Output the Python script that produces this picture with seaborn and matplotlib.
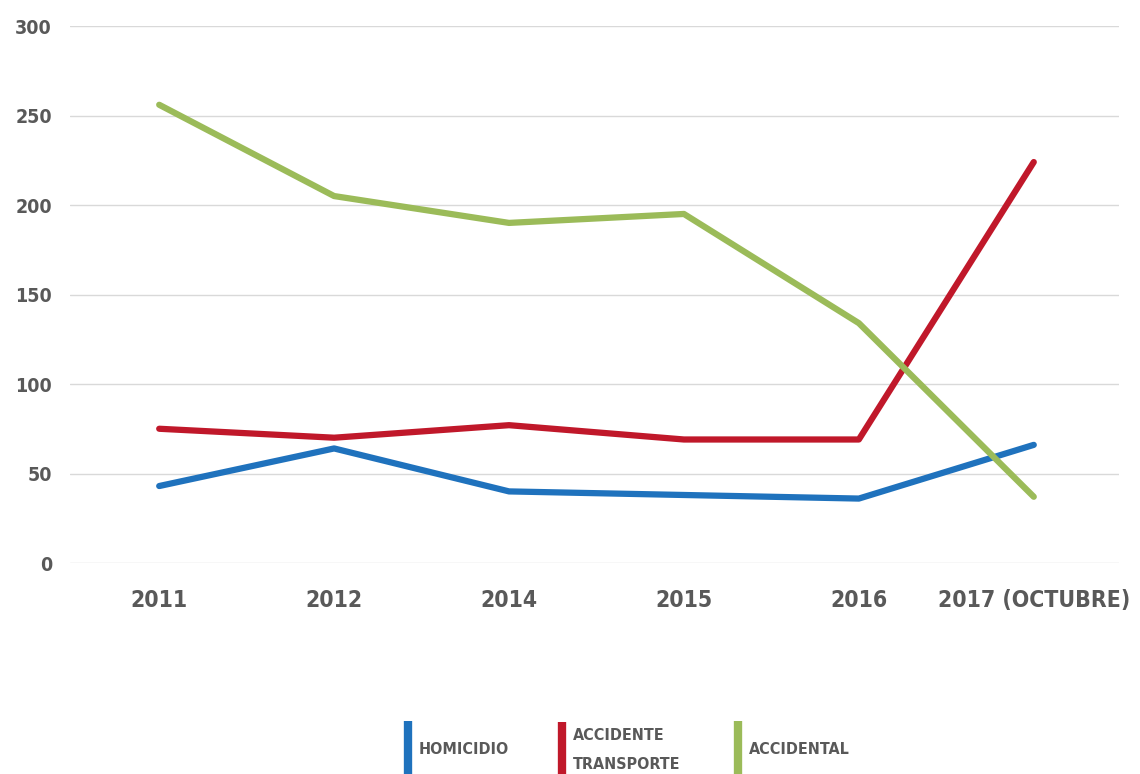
import matplotlib
matplotlib.use("Agg")
import matplotlib.pyplot as plt
import pandas as pd
import seaborn as sns
from matplotlib.lines import Line2D

years = ["2011", "2012", "2014", "2015", "2016", "2017 (OCTUBRE)"]
homicidio = [43, 64, 40, 38, 36, 66]
accidente_transporte = [75, 70, 77, 69, 69, 224]
accidental = [256, 205, 190, 195, 134, 37]

series_names = ["HOMICIDIO", "ACCIDENTE\nTRANSPORTE", "ACCIDENTAL"]
colors = ["#1f72bd", "#c0182a", "#9bbb59"]
text_color = "#595959"

sns.set_theme(style="white")
plt.rcParams["font.family"] = ["DejaVu Sans"]
plt.rcParams["font.stretch"] = "condensed"
plt.rcParams["font.weight"] = "bold"

df = pd.DataFrame({
    "year": years * 3,
    "value": homicidio + accidente_transporte + accidental,
    "serie": [series_names[0]] * 6 + [series_names[1]] * 6 + [series_names[2]] * 6,
})

fig = plt.figure(figsize=(11.4, 7.74), dpi=100)
ax = fig.add_axes([0.0614, 0.2726, 0.9206, 0.6938])

sns.lineplot(
    data=df, x="year", y="value", hue="serie", hue_order=series_names,
    palette=colors, linewidth=4.5, sort=False, legend=False, ax=ax,
    solid_capstyle="round",
)

ax.set_ylim(0, 300)
ax.set_xlim(-0.51, 5.49)
ax.set_yticks(range(0, 301, 50))
ax.yaxis.grid(True, color="#d9d9d9", linewidth=1)
ax.set_axisbelow(True)
for s in ax.spines.values():
    s.set_visible(False)
ax.set_xlabel("")
ax.set_ylabel("")
ax.tick_params(axis="y", length=0, pad=13, labelsize=14, labelcolor=text_color)
ax.tick_params(axis="x", length=0, pad=19, labelsize=16.5, labelcolor=text_color)

# one legend per entry so each sits where the reference has it
legend_x = [403, 557, 733]
for name, c, lx in zip(series_names, colors, legend_x):
    h = Line2D([], [], color=c, marker="|", markersize=40, markeredgewidth=6, linestyle="None")
    leg = fig.legend(
        [h], [name], loc="center left", bbox_to_anchor=(lx / 1140, 1 - 750 / 774),
        frameon=False, fontsize=11.5, labelcolor=text_color,
        handlelength=0.6, handletextpad=0.4, borderpad=0, borderaxespad=0,
    )
    for t in leg.get_texts():
        t.set_linespacing(2.1)

fig.savefig("out.png", dpi=100)
